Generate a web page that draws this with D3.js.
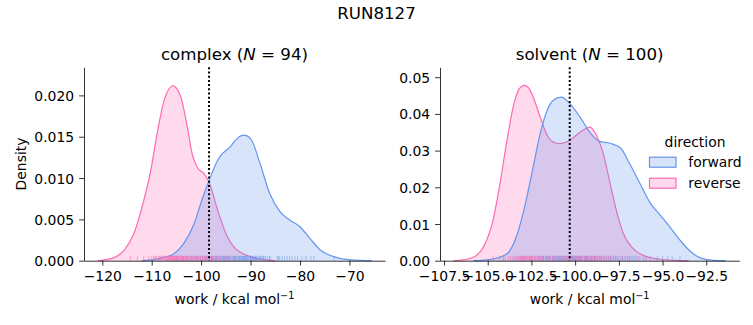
<!DOCTYPE html>
<html><head><meta charset="utf-8">
<script src="https://cdn.jsdelivr.net/npm/d3@7"></script>
<style>
body{margin:0;background:#fff;}
svg{display:block;font-family:"DejaVu Sans",sans-serif;}
</style>
</head><body>
<svg id="chart" width="753" height="325"></svg>
<script>
// ---------- data ----------
const suptitle = "RUN8127";
const directions = ["forward", "reverse"];

// KDE curves: x (work) and density
const complexForwardX = [-112, -110.2, -107.5, -105.5, -103.5, -101.4, -100.2, -99.4, -98.4, -96.7, -96.2, -94.1, -93.3, -92.3, -91.5, -90.7, -89.8, -88.1, -86.1, -84.0, -82.0, -80.0, -78.0, -75.9, -73.2, -69.9, -65.5];
const complexForwardDensity = [0, 0.0001, 0.0004, 0.00085, 0.0021, 0.0045, 0.0067, 0.0081, 0.0097, 0.0121, 0.0126, 0.0138, 0.0144, 0.0150, 0.0152, 0.0151, 0.0146, 0.0118, 0.0081, 0.0059, 0.0049, 0.0041, 0.0027, 0.0013, 0.0005, 0.0001, 0];

const complexReverseX = [-120.9, -119.6, -117.5, -115.6, -113.6, -111.6, -110.2, -108.9, -107.5, -106.5, -105.7, -104.9, -104.1, -102.8, -101.8, -100.8, -99.4, -98.4, -96.7, -94.7, -93.3, -90.1, -87.0, -85.0];
const complexReverseDensity = [0, 0.0001, 0.0004, 0.00126, 0.0033, 0.0073, 0.0109, 0.0154, 0.0194, 0.0208, 0.0212, 0.0208, 0.0198, 0.0162, 0.0129, 0.0113, 0.0105, 0.0095, 0.0062, 0.0029, 0.0016, 0.0005, 0.0001, 0];

const solventForwardX = [-105.8, -104.9, -103.9, -103.3, -102.8, -102.4, -102.0, -101.6, -101.25, -100.8, -100.3, -99.7, -99.15, -98.6, -98.0, -97.4, -96.9, -96.3, -95.7, -95.15, -94.6, -94.0, -93.4, -92.8, -92.1, -91.4];
const solventForwardDensity = [0, 0.0003, 0.0019, 0.0074, 0.0165, 0.0256, 0.0346, 0.0410, 0.0437, 0.0446, 0.0428, 0.0390, 0.0349, 0.0325, 0.0320, 0.0307, 0.0266, 0.0211, 0.0157, 0.0125, 0.0093, 0.0056, 0.0025, 0.0007, 0.0001, 0];

const solventReverseX = [-106.95, -106.6, -105.8, -105.25, -104.7, -104.3, -103.9, -103.5, -103.2, -102.9, -102.6, -102.4, -102.0, -101.6, -101.2, -100.9, -100.3, -99.7, -99.35, -99.15, -98.8, -98.4, -98.0, -97.6, -97.25, -96.7, -95.9, -95.15, -94.3, -93.5];
const solventReverseDensity = [0, 0.0001, 0.0010, 0.0037, 0.0110, 0.0210, 0.0328, 0.0428, 0.0468, 0.0478, 0.0467, 0.0446, 0.0392, 0.0342, 0.0322, 0.0319, 0.0328, 0.0351, 0.0361, 0.0364, 0.0343, 0.0293, 0.0211, 0.0129, 0.0075, 0.0034, 0.0011, 0.0004, 0.0001, 0];

// individual work values (rug)
const complexForwardRug = [-104.9, -103.6, -102.8, -102.1, -101.5, -101.0, -100.6, -100.1, -99.7, -99.3,
  -99.0, -98.6, -98.3, -98.0, -97.7, -97.4, -97.1, -96.9, -96.6, -96.3,
  -96.1, -95.8, -95.6, -95.3, -95.1, -94.8, -94.6, -94.3, -94.1, -93.8,
  -93.6, -93.4, -93.1, -92.9, -92.7, -92.5, -92.3, -92.1, -91.9, -91.7,
  -91.5, -91.3, -91.1, -90.9, -90.7, -90.5, -90.3, -90.1, -89.9, -89.7,
  -89.4, -89.2, -89.0, -88.7, -88.5, -88.2, -87.9, -87.6, -87.3, -87.0,
  -86.6, -86.2, -86.0, -87.4, -84.4, -84.6, -84.1, -83.6, -83.1, -82.6,
  -82.1, -81.6, -81.0, -80.5, -79.6, -78.8, -77.8, -77.2, -73.1, -97.9,
  -96.8, -95.5, -94.4, -93.3, -92.2, -91.6, -90.8, -89.6, -88.9, -91.2,
  -93.0, -94.9, -90.0, -88.0];
const complexReverseRug = [-114.3, -112.9, -111.6, -110.6, -110.0, -109.6, -109.2, -108.9, -108.6, -108.3,
  -108.1, -107.9, -107.7, -107.5, -107.3, -107.1, -106.9, -106.7, -106.6, -106.4,
  -106.2, -106.1, -105.9, -105.8, -105.6, -105.5, -105.3, -105.2, -105.0, -104.9,
  -104.7, -104.6, -104.4, -104.3, -104.1, -103.9, -103.8, -103.6, -103.4, -103.2,
  -103.0, -102.8, -102.6, -102.4, -102.2, -102.0, -101.8, -101.6, -101.3, -101.1,
  -100.9, -100.6, -100.4, -100.1, -99.8, -99.5, -99.3, -99.0, -98.7, -98.4,
  -98.1, -97.8, -97.4, -97.0, -96.5, -96.0, -95.3, -94.5, -93.4, -107.0,
  -106.3, -105.7, -105.1, -104.5, -103.7, -102.9, -101.9, -100.7, -99.7, -98.9,
  -106.8, -105.4, -104.0, -102.7, -101.5, -108.4, -109.4, -100.2, -97.6, -105.9,
  -104.8, -103.3, -101.0, -99.1];
const solventForwardRug = [-104.1, -103.5, -103.1, -102.8, -102.5, -102.3, -102.1, -101.9, -101.7, -101.6,
  -101.5, -101.4, -101.3, -101.2, -101.1, -101.0, -100.9, -100.8, -100.7, -100.6,
  -100.5, -100.4, -100.3, -100.2, -100.1, -100.0, -99.9, -99.8, -99.7, -99.6,
  -99.5, -99.4, -99.3, -99.1, -98.9, -98.7, -98.5, -98.3, -98.1, -97.9,
  -97.7, -97.5, -97.3, -97.1, -96.9, -96.7, -96.5, -96.3, -96.0, -95.7,
  -95.3, -95.0, -94.7, -94.45, -94.0, -101.85, -101.55, -101.25, -100.95, -100.65,
  -100.35, -100.05, -99.75, -99.45, -99.15, -98.8, -98.4, -98.0, -97.6, -97.2,
  -102.0, -101.8, -101.05, -100.85, -100.55, -100.25, -99.95, -99.65, -99.25, -98.6,
  -97.8, -97.4, -96.8, -96.1, -102.6, -101.45, -100.75, -100.15, -99.35, -98.2,
  -97.0, -96.6, -101.15, -100.45, -99.85, -98.9, -97.95, -101.65, -100.0, -99.05];
const solventReverseRug = [-104.7, -104.3, -104.0, -103.8, -103.6, -103.5, -103.4, -103.3, -103.2, -103.1,
  -103.0, -102.95, -102.9, -102.8, -102.7, -102.6, -102.5, -102.4, -102.3, -102.2,
  -102.1, -102.0, -101.9, -101.8, -101.6, -101.4, -101.2, -101.0, -100.8, -100.6,
  -100.4, -100.2, -100.0, -99.9, -99.8, -99.7, -99.6, -99.5, -99.4, -99.3,
  -99.2, -99.1, -99.0, -98.9, -98.8, -98.7, -98.6, -98.4, -98.2, -98.0,
  -97.8, -97.6, -97.3, -96.9, -96.4, -95.9, -103.25, -103.05, -102.85, -102.65,
  -102.45, -102.25, -102.05, -101.7, -101.3, -100.9, -100.5, -100.1, -99.65, -99.35,
  -99.05, -98.75, -98.5, -103.7, -103.15, -102.75, -102.35, -101.95, -101.5, -100.7,
  -100.3, -99.85, -99.45, -98.95, -98.55, -98.1, -97.7, -102.55, -103.35, -101.1,
  -99.95, -99.25, -98.85, -102.15, -100.15, -101.85, -102.9, -103.0, -99.75, -98.3];

// dotted reference lines
const complexRef = -98.4;
const solventRef = -100.31;

// ticks
const complexXTicks = [-120, -110, -100, -90, -80, -70];
const complexYTicks = [0, 0.005, 0.010, 0.015, 0.020];
const solventXTicks = [-107.5, -105.0, -102.5, -100.0, -97.5, -95.0, -92.5];
const solventYTicks = [0, 0.01, 0.02, 0.03, 0.04, 0.05];

// ---------- drawing ----------
const colors = {forward: "#6495ED", reverse: "#FF69B4"};
const svg = d3.select("#chart");
const plotTop = 67.3, plotBottom = 260.7;
const tickFont = 13.9;

svg.append("text").attr("x", 376.5).attr("y", 19).attr("text-anchor", "middle")
  .attr("font-size", 16.67).attr("fill", "#000").text(suptitle);

const panels = [
  {name: "complex", left: 84, right: 385, xdom: [-123.7, -62.8], ydom: [0, 0.0234],
   forward: d3.zip(complexForwardX, complexForwardDensity), reverse: d3.zip(complexReverseX, complexReverseDensity),
   rugF: complexForwardRug, rugR: complexReverseRug, ref: complexRef,
   xt: complexXTicks, yt: complexYTicks, xf: d3.format("d"), yf: d3.format(".3f"), ylabel: true},
  {name: "solvent", left: 440, right: 739.3, xdom: [-107.73, -90.61], ydom: [0, 0.0527],
   forward: d3.zip(solventForwardX, solventForwardDensity), reverse: d3.zip(solventReverseX, solventReverseDensity),
   rugF: solventForwardRug, rugR: solventReverseRug, ref: solventRef,
   xt: solventXTicks, yt: solventYTicks, xf: d3.format(".1f"), yf: d3.format(".2f"), ylabel: false}
];

panels.forEach(p => {
  const x = d3.scaleLinear().domain(p.xdom).range([p.left, p.right]);
  const y = d3.scaleLinear().domain(p.ydom).range([plotBottom, plotTop]);
  const g = svg.append("g");

  const area = d3.area().x(d => x(d[0])).y0(y(0)).y1(d => y(d[1])).curve(d3.curveMonotoneX);
  const line = d3.line().x(d => x(d[0])).y(d => y(d[1])).curve(d3.curveMonotoneX);

  ["reverse", "forward"].forEach(k => {
    g.append("path").attr("d", area(p[k])).attr("fill", colors[k]).attr("fill-opacity", 0.25).attr("stroke", "none");
    g.append("path").attr("d", line(p[k])).attr("fill", "none").attr("stroke", colors[k]).attr("stroke-width", 1.2);
  });

  // rugs
  const rugH = 0.025 * (plotBottom - plotTop);
  [["forward", p.rugF], ["reverse", p.rugR]].forEach(([k, vals]) => {
    g.append("g").selectAll("line").data(vals).join("line")
      .attr("x1", d => x(d)).attr("x2", d => x(d))
      .attr("y1", plotBottom).attr("y2", plotBottom - rugH)
      .attr("stroke", colors[k]).attr("stroke-width", 1).attr("stroke-opacity", 0.5);
  });

  // axes
  const xa = g.append("g").attr("transform", `translate(0,${plotBottom})`)
    .call(d3.axisBottom(x).tickValues(p.xt).tickFormat(p.xf).tickSize(4.86).tickSizeOuter(0).tickPadding(6));
  const ya = g.append("g").attr("transform", `translate(${p.left},0)`)
    .call(d3.axisLeft(y).tickValues(p.yt).tickFormat(p.yf).tickSize(4.86).tickSizeOuter(0).tickPadding(5));
  [xa, ya].forEach(a => {
    a.attr("font-family", "DejaVu Sans").attr("font-size", tickFont);
    a.selectAll("path.domain").attr("stroke", "#000").attr("stroke-width", 0.8);
    a.selectAll(".tick line").attr("stroke", "#000").attr("stroke-width", 0.8);
    a.selectAll(".tick text").attr("fill", "#000");
  });
  ya.selectAll(".tick text").attr("dy", "0.36em");

  // dotted reference line
  g.append("line").attr("x1", x(p.ref)).attr("x2", x(p.ref)).attr("y1", plotTop).attr("y2", plotBottom)
    .attr("stroke", "#000").attr("stroke-width", 2).attr("stroke-dasharray", "2,2.2");

  // title
  const cx = (p.left + p.right) / 2;
  const t = g.append("text").attr("x", cx).attr("y", 59.5).attr("text-anchor", "middle").attr("font-size", 16.67).attr("fill", "#000");
  t.append("tspan").text(p.name + " (");
  t.append("tspan").attr("font-style", "italic").text("N");
  t.append("tspan").text(" = " + p.rugF.length + ")");

  // x label
  const xl = g.append("text").attr("x", cx).attr("y", 304).attr("text-anchor", "middle").attr("font-size", tickFont).attr("fill", "#000");
  xl.append("tspan").text("work / kcal mol");
  xl.append("tspan").attr("dy", -5.5).attr("font-size", 9.7).text("\u22121");

  if (p.ylabel) {
    g.append("text").attr("transform", `translate(25.8,${(plotTop + plotBottom) / 2}) rotate(-90)`)
      .attr("text-anchor", "middle").attr("font-size", tickFont).attr("fill", "#000").text("Density");
  }
});

// legend
const lg = svg.append("g").attr("font-size", tickFont).attr("fill", "#000");
lg.append("text").attr("x", 695).attr("y", 147.3).attr("text-anchor", "middle").text("direction");
directions.forEach((k, i) => {
  const yy = 157.2 + i * 21;
  lg.append("rect").attr("x", 649.5).attr("y", yy).attr("width", 26.5).attr("height", 10)
    .attr("fill", colors[k]).attr("fill-opacity", 0.25).attr("stroke", colors[k]).attr("stroke-width", 1.2);
  lg.append("text").attr("x", 688.3).attr("y", yy + 9.5).text(k);
});
</script>
</body></html>
